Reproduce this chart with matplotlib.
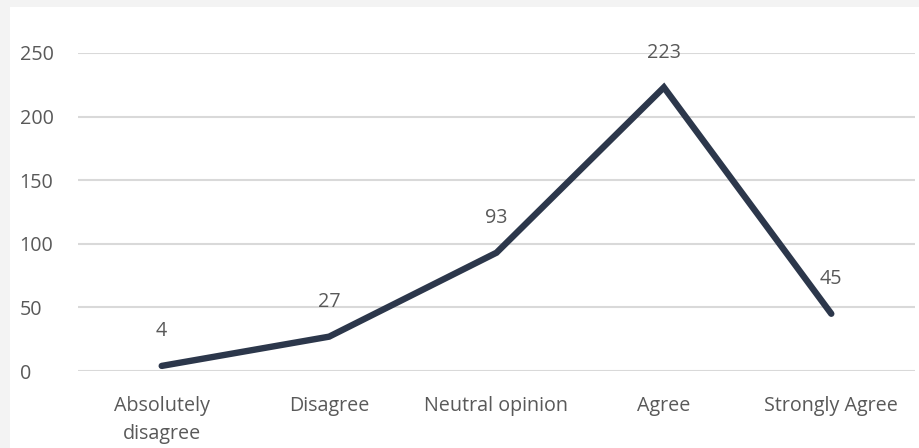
import matplotlib.pyplot as plt
from matplotlib.patches import Rectangle

categories = ["Absolutely\ndisagree", "Disagree", "Neutral opinion", "Agree", "Strongly Agree"]
counts = [4, 27, 93, 223, 45]
yticks = [0, 50, 100, 150, 200, 250]

text_color = "#595959"
line_color = "#2c374b"
fs = 14.2

plt.rcParams['font.family'] = ['Open Sans', 'DejaVu Sans']

fig = plt.figure(figsize=(9.19, 4.48), dpi=100)
fig.patch.set_facecolor("#f3f3f3")
# white chart card with a thin shadow on the top/left edges
fig.add_artist(Rectangle((10 / 919, 0), 1, 1 - 7 / 448, transform=fig.transFigure,
                         facecolor="white", edgecolor="none", zorder=0))

ax = fig.add_axes([78 / 919, (448 - 371) / 448, (915 - 78) / 919, (371 - 53) / 448])
ax.set_facecolor("none")
x = range(len(categories))
ax.plot(x, counts, color=line_color, linewidth=4.6, solid_capstyle="round",
        solid_joinstyle="miter", zorder=3)

for xi, v in zip(x, counts):
    ax.annotate(str(v), (xi, v), xytext=(0, 25), textcoords="offset points",
                ha="center", va="center", fontsize=fs, color=text_color)

ax.set_xlim(-0.5, len(categories) - 0.5)
ax.set_ylim(0, 250)
ax.set_yticks(yticks)
ax.set_xticks(list(x))
ax.set_xticklabels(categories, fontsize=fs, color=text_color, linespacing=1.5)
ax.tick_params(axis="y", labelsize=fs, colors=text_color, length=0, pad=42)
ax.tick_params(axis="x", length=0, pad=18)
for lbl in ax.get_yticklabels():
    lbl.set_horizontalalignment("left")
ax.yaxis.grid(True, color="#d9d9d9", linewidth=1.5)
ax.set_axisbelow(True)
for s in ax.spines.values():
    s.set_visible(False)

fig.savefig("out.png", dpi=100, facecolor=fig.get_facecolor())
